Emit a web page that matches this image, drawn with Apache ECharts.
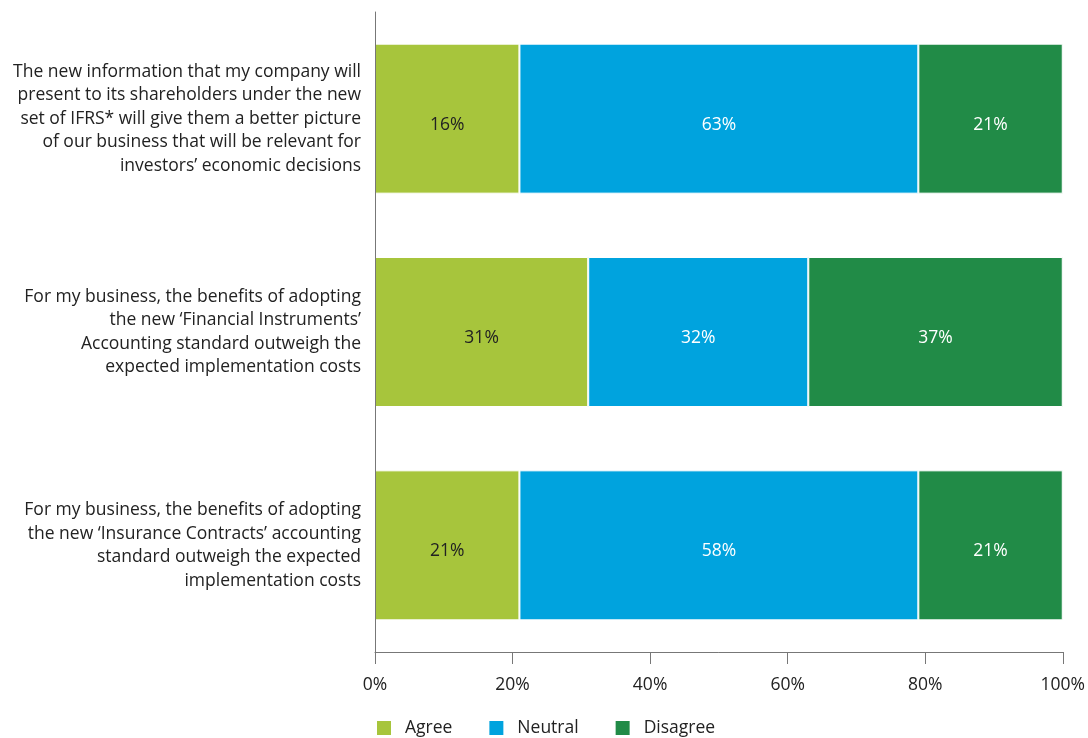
<!DOCTYPE html>
<html>
<head>
<meta charset="utf-8">
<script src="https://cdn.jsdelivr.net/npm/echarts@6/dist/echarts.min.js"></script>
<style>html,body{margin:0;padding:0;background:#fff}#c{width:1088px;height:738px}</style>
</head>
<body>
<div id="c"></div>
<script>
const categories = [
  "The new information that my company will\npresent to its shareholders under the new\nset of IFRS* will give them a better picture\nof our business that will be relevant for\ninvestors\u2019 economic decisions",
  "For my business, the benefits of adopting\nthe new \u2018Financial Instruments\u2019\nAccounting standard outweigh the\nexpected implementation costs",
  "For my business, the benefits of adopting\nthe new \u2018Insurance Contracts\u2019 accounting\nstandard outweigh the expected\nimplementation costs"
];
const agree = [21, 31, 21];
const neutral = [58, 32, 58];
const disagree = [21, 37, 21];
const agreeLabels = ["16%", "31%", "21%"];
const neutralLabels = ["63%", "32%", "58%"];
const disagreeLabels = ["21%", "37%", "21%"];
const xTicks = [0, 20, 40, 60, 80, 100];

const FONT = "Open Sans";
const FS = 17.5;
const chart = echarts.init(document.getElementById('c'));
function mk(name, data, labels, color, labelColor) {
  return {
    name: name, type: 'bar', stack: 'all', data: data, barWidth: 150,
    itemStyle: { color: color, borderColor: '#fff', borderWidth: 1 },
    label: { show: true, position: 'inside', offset: [0, 6], color: labelColor, fontFamily: FONT, fontSize: FS,
      formatter: p => labels[p.dataIndex] },
    emphasis: { disabled: true }
  };
}
chart.setOption({
  animation: false,
  textStyle: { fontFamily: FONT },
  grid: { left: 375, right: 23, top: 12, bottom: 86, containLabel: false },
  xAxis: {
    type: 'value', min: 0, max: 100, interval: 20,
    axisLine: { show: true, lineStyle: { color: '#777', width: 1 } },
    axisTick: { show: true, length: 12, lineStyle: { color: '#777' } },
    splitLine: { show: false },
    axisLabel: { color: '#222', fontSize: FS, fontFamily: FONT, margin: 24,
      formatter: v => xTicks.includes(v) ? v + '%' : '' }
  },
  yAxis: {
    type: 'category', data: categories, inverse: true, z: 10,
    axisLine: { show: true, lineStyle: { color: '#777', width: 1 } },
    axisTick: { show: false },
    axisLabel: { color: '#222', fontSize: FS, fontFamily: FONT, lineHeight: 23.5, margin: 14, align: 'right' }
  },
  legend: {
    left: 375, top: 719, padding: 0, itemWidth: 16, itemHeight: 16, itemGap: 35,
    icon: 'rect',
    textStyle: { color: '#222', fontSize: FS, fontFamily: FONT, padding: [0, 0, 0, 8] },
    data: ['Agree', 'Neutral', 'Disagree']
  },
  series: [
    mk('Agree', agree, agreeLabels, '#a7c53c', '#222'),
    mk('Neutral', neutral, neutralLabels, '#00a3de', '#fff'),
    mk('Disagree', disagree, disagreeLabels, '#218b47', '#fff')
  ]
});
</script>
</body>
</html>
